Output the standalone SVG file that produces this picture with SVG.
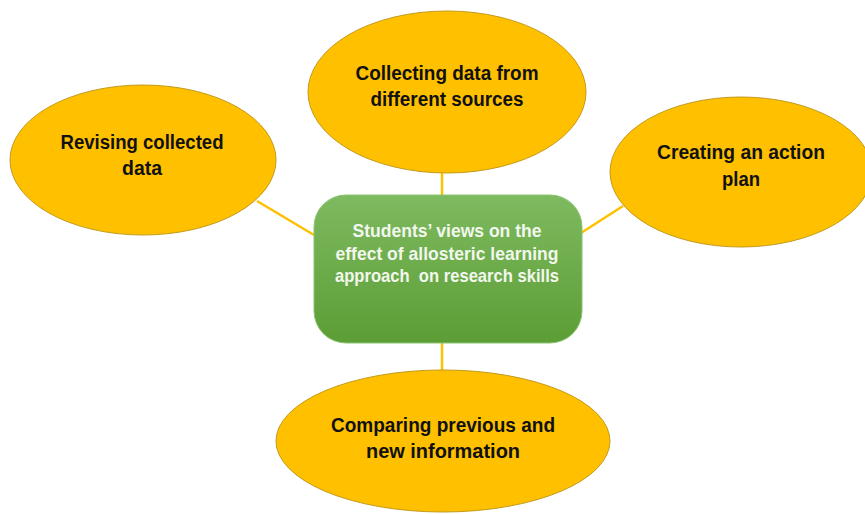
<svg xmlns="http://www.w3.org/2000/svg" width="865" height="514" viewBox="0 0 865 514">
<defs>
<linearGradient id="g" x1="0" y1="0" x2="0" y2="1">
<stop offset="0" stop-color="#7eba60"/>
<stop offset="1" stop-color="#5c9d35"/>
</linearGradient>
<style>
.bub{fill:#FFC000;stroke:#C39A1A;stroke-width:1}
.lbl{font-family:"Liberation Sans",Arial,sans-serif;font-weight:bold;font-size:19.5px;fill:#111;text-anchor:middle}
.ctr{font-family:"Liberation Sans",Arial,sans-serif;font-weight:bold;font-size:19px;fill:#f2f7ee;text-anchor:middle}
.con{stroke:#FFC000;stroke-width:2.5;fill:none}
</style>
</defs>
<rect width="865" height="514" fill="#fff"/>
<g id="connectors">
<line class="con" x1="442" y1="173" x2="442" y2="196"/>
<line class="con" x1="257" y1="201" x2="314" y2="235"/>
<line class="con" x1="623" y1="206" x2="581" y2="233"/>
<line class="con" x1="442" y1="342" x2="442" y2="371"/>
</g>
<g id="center">
<rect x="314" y="195" width="268" height="148" rx="32" ry="32" fill="url(#g)" stroke="#8cc46f" stroke-width="1"/>
<text class="ctr" x="447" y="237" textLength="189" lengthAdjust="spacingAndGlyphs">Students’ views on the</text>
<text class="ctr" x="447" y="260" textLength="223" lengthAdjust="spacingAndGlyphs">effect of allosteric learning</text>
<text class="ctr" x="447" y="282" textLength="224" lengthAdjust="spacingAndGlyphs" xml:space="preserve">approach  on research skills</text>
</g>
<g id="top">
<ellipse class="bub" cx="447" cy="92" rx="139" ry="81"/>
<text class="lbl" x="447" y="80" textLength="183" lengthAdjust="spacingAndGlyphs">Collecting data from</text>
<text class="lbl" x="447" y="106" textLength="153" lengthAdjust="spacingAndGlyphs">different sources</text>
</g>
<g id="left">
<ellipse class="bub" cx="143" cy="160" rx="133" ry="75"/>
<text class="lbl" x="142" y="149" textLength="163" lengthAdjust="spacingAndGlyphs">Revising collected</text>
<text class="lbl" x="142" y="175" textLength="40" lengthAdjust="spacingAndGlyphs">data</text>
</g>
<g id="right">
<ellipse class="bub" cx="741" cy="172" rx="131" ry="75"/>
<text class="lbl" x="741" y="159" textLength="168" lengthAdjust="spacingAndGlyphs">Creating an action</text>
<text class="lbl" x="741" y="186" textLength="38" lengthAdjust="spacingAndGlyphs">plan</text>
</g>
<g id="bottom">
<ellipse class="bub" cx="443" cy="441" rx="167" ry="71"/>
<text class="lbl" x="443" y="432" textLength="224" lengthAdjust="spacingAndGlyphs">Comparing previous and</text>
<text class="lbl" x="443" y="458" textLength="154" lengthAdjust="spacingAndGlyphs">new information</text>
</g>
</svg>
